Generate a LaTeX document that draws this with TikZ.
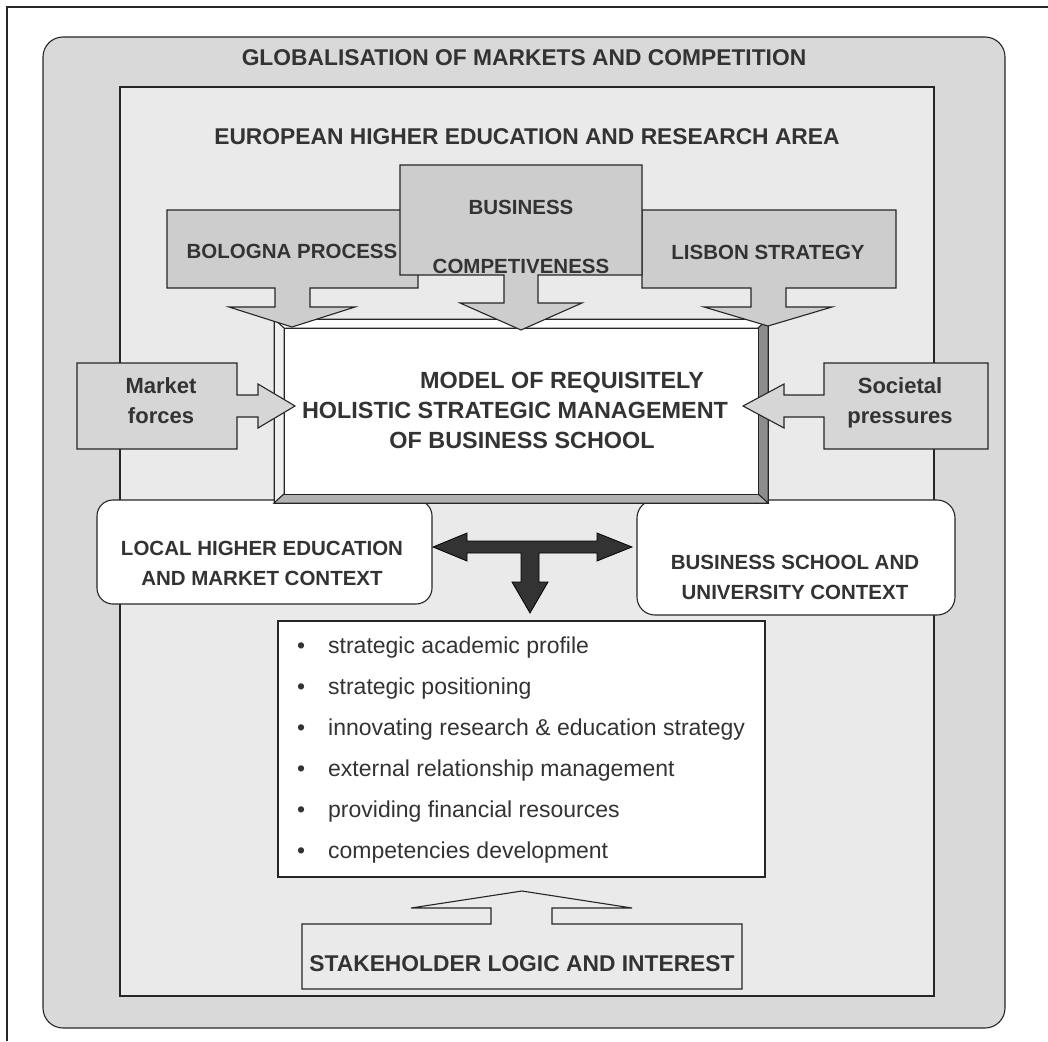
\documentclass[tikz,border=0pt]{standalone}
\usepackage{fontspec}
\setmainfont{Liberation Sans}
\usepackage{tikz}
\usepackage{color}
\definecolor{band}{RGB}{217,217,217}
\definecolor{area}{RGB}{234,234,234}
\definecolor{callfill}{RGB}{205,205,205}
\definecolor{sidefill}{RGB}{214,214,214}
\definecolor{ink}{RGB}{51,51,51}
\definecolor{edge}{RGB}{38,38,38}
\definecolor{tarrow}{RGB}{51,51,51}

\begin{document}
\begin{tikzpicture}[x=1pt,y=-1pt,
  every node/.style={text=ink,inner sep=0pt},
  ln/.style={draw=edge,line width=1.1pt},
  bv/.style={draw=edge,line width=1pt,line join=miter},
  hd/.style={font=\fontsize{22.8}{28}\selectfont\bfseries,anchor=base},
  cl/.style={font=\fontsize{20.5}{26}\selectfont\bfseries,anchor=base},
  sd/.style={font=\fontsize{22}{28}\selectfont\bfseries,anchor=base},
  md/.style={font=\fontsize{23.4}{28}\selectfont\bfseries,anchor=base},
  it/.style={font=\fontsize{23}{28}\selectfont,anchor=base west}]
\useasboundingbox (0,0) rectangle (1048,1041);
\draw[ln] (1048,7) -- (7,7) -- (7,1041);

%frames
\draw[ln,fill=band,rounded corners=20pt] (43,37) rectangle (1005,1028);
\draw[ln,fill=area] (120,87) rectangle (934,996);
\node[hd] (glob) at (524,66) {GLOBALISATION OF MARKETS AND COMPETITION};
\node[hd] (ehea) at (527,144) {EUROPEAN HIGHER EDUCATION AND RESEARCH AREA};

%context boxes
\draw[ln,fill=white,rounded corners=16pt] (97,500) rectangle (432,604);
\draw[ln,fill=white,rounded corners=18pt] (637,500) rectangle (955,615);
\node[cl] (local1) at (262,555) {LOCAL HIGHER EDUCATION};
\node[cl] (local2) at (262,585) {AND MARKET CONTEXT};
\node[cl] (school1) at (795,569) {BUSINESS SCHOOL AND};
\node[cl] (school2) at (795,599) {UNIVERSITY CONTEXT};

%bevelled model box
\draw[bv,fill=white] (274,319) -- (768,319) -- (758,328) -- (284,328) -- cycle;
\draw[bv,fill=white!94!black] (274,319) -- (284,328) -- (284,494) -- (274,503) -- cycle;
\draw[bv,fill=white!55!black] (768,319) -- (768,503) -- (758,494) -- (758,328) -- cycle;
\draw[bv,fill=white!70!black] (274,503) -- (768,503) -- (758,494) -- (284,494) -- cycle;
\draw[bv,fill=white] (284,328) rectangle (758,494);
\draw[bv] (274,319) rectangle (768,503);
\node[md] (model1) at (562,388) {MODEL OF REQUISITELY};
\node[md] (model2) at (515,418) {HOLISTIC STRATEGIC MANAGEMENT};
\node[md] (model3) at (522,448) {OF BUSINESS SCHOOL};

%top callouts
\draw[ln,fill=callfill] (167,210) -- (418,210) -- (418,288) -- (310,288) -- (310,307) -- (355,307)
  -- (292,327) -- (229,307) -- (275,307) -- (275,288) -- (167,288) -- cycle;
\draw[ln,fill=callfill] (642,210) -- (896,210) -- (896,288) -- (786,288) -- (786,307) -- (832,307)
  -- (768,326) -- (704,307) -- (751,307) -- (751,288) -- (642,288) -- cycle;
\draw[ln,fill=callfill] (400,165) -- (642,165) -- (642,275) -- (538,275) -- (538,303) -- (582,303)
  -- (521,330) -- (460,303) -- (504,303) -- (504,275) -- (400,275) -- cycle;
\node[cl] (bologna) at (292,258) {BOLOGNA PROCESS};
\node[cl] (lisbon) at (768,259) {LISBON STRATEGY};
\node[cl] (business) at (521,214) {BUSINESS};
\node[cl] (compet) at (521,273) {COMPETIVENESS};

%side callouts
\draw[ln,fill=sidefill] (77,363) -- (237,363) -- (237,395) -- (258,395) -- (258,384) -- (295,406)
  -- (258,428) -- (258,417) -- (237,417) -- (237,449) -- (77,449) -- cycle;
\draw[ln,fill=sidefill] (988,363) -- (824,363) -- (824,395) -- (784,395) -- (784,384) -- (743,406)
  -- (784,428) -- (784,417) -- (824,417) -- (824,449) -- (988,449) -- cycle;
\node[sd] (market) at (161,393) {Market};
\node[sd] (forces) at (161,423) {forces};
\node[sd] (societal) at (900,393) {Societal};
\node[sd] (pressures) at (900,423) {pressures};

%T arrow
\draw[draw=black,line width=0.8pt,fill=tarrow] (433,547) -- (467,533) -- (467,541) -- (597,541) -- (597,533)
  -- (632,547) -- (597,561) -- (597,553) -- (539,553) -- (539,582) -- (548,582) -- (530,613)
  -- (512,582) -- (521,582) -- (521,553) -- (467,553) -- (467,561) -- cycle;

%list of tasks
\draw[ln,fill=white] (278,621) rectangle (765,877);
\node[it] (task1) at (297,653) {\makebox[31pt][l]{\textbullet}strategic academic profile};
\node[it] (task2) at (297,694) {\makebox[31pt][l]{\textbullet}strategic positioning};
\node[it] (task3) at (297,735) {\makebox[31pt][l]{\textbullet}innovating research \& education strategy};
\node[it] (task4) at (297,776) {\makebox[31pt][l]{\textbullet}external relationship management};
\node[it] (task5) at (297,817) {\makebox[31pt][l]{\textbullet}providing financial resources};
\node[it] (task6) at (297,858) {\makebox[31pt][l]{\textbullet}competencies development};

%stakeholder callout
\draw[ln,fill=area] (302,924) -- (491,924) -- (491,908) -- (411,908) -- (522,891) -- (632,908)
  -- (552,908) -- (552,924) -- (742,924) -- (742,989) -- (302,989) -- cycle;
\node[hd] (stake) at (522,971) {STAKEHOLDER LOGIC AND INTEREST};
\end{tikzpicture}
\end{document}
